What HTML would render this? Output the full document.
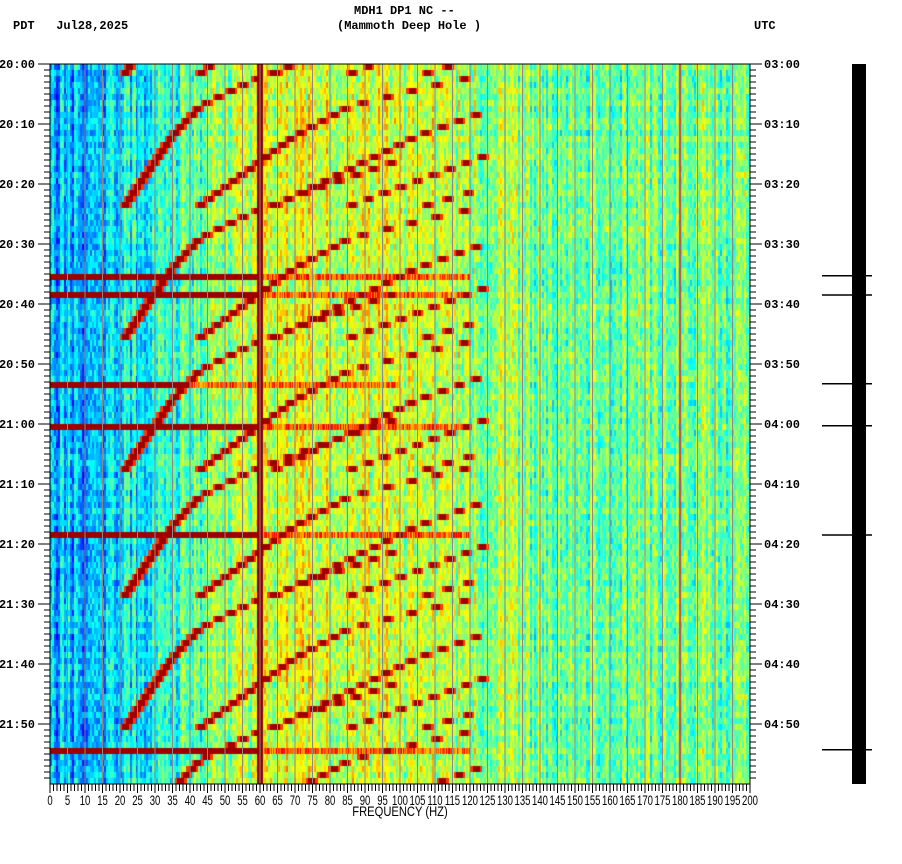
<!DOCTYPE html>
<html><head><meta charset="utf-8"><style>
body{margin:0;background:#fff;width:902px;height:864px;overflow:hidden;position:relative;font-family:"Liberation Mono",monospace;}
.t{position:absolute;font-size:12px;font-weight:bold;color:#000;white-space:pre;line-height:12px;}
#spec{position:absolute;left:50px;top:64px;}
#ov{position:absolute;left:0;top:0;}
</style></head><body>
<div class="t" style="left:354px;top:5px">MDH1 DP1 NC --</div>
<div class="t" style="left:337px;top:20px">(Mammoth Deep Hole )</div>
<div class="t" style="left:13px;top:20px">PDT   Jul28,2025</div>
<div class="t" style="left:754px;top:20px">UTC</div>
<canvas id="spec" width="700" height="720"></canvas>
<svg id="ov" width="902" height="864"></svg>
<script>
// ---- data ----
const freqGridHz=[0,10,20,30,40,50,60,70,80,90,100,110,120,130,140,150,160,170,180,190,200];
const baseLevel=[0.3,0.31,0.35,0.41,0.46,0.5,0.57,0.59,0.59,0.58,0.57,0.56,0.54,0.52,0.5,0.5,0.5,0.49,0.49,0.49,0.49];
const chirpDt=[0,6,12,17,21,25,30];
const chirpFreq=[21,28,35,43,57,75,100];
const episodeEnd=[2,24,46,68,89,111,133];
const harmonics=[1,2,3,4,5,6];
const eventTimes=[35.3,38.5,53.3,60.3,78.5,114.3];
const eventExtentHz=[60,60,40,60,60,60];
const leftTicks=["20:00","20:10","20:20","20:30","20:40","20:50","21:00","21:10","21:20","21:30","21:40","21:50"];
const rightTicks=["03:00","03:10","03:20","03:30","03:40","03:50","04:00","04:10","04:20","04:30","04:40","04:50"];
const freqTicks=[0,5,10,15,20,25,30,35,40,45,50,55,60,65,70,75,80,85,90,95,100,105,110,115,120,125,130,135,140,145,150,155,160,165,170,175,180,185,190,195,200];
// ---- axes ----
const X0=50,X1=750,Y0=64,Y1=784,FMAX=200,TMAX=120;
const xs=f=>X0+(f/FMAX)*(X1-X0);
const ys=t=>Y0+(t/TMAX)*(Y1-Y0);
function interp(xa,ya,x){if(x<=xa[0])return ya[0];for(let i=1;i<xa.length;i++){if(x<=xa[i]){const k=(x-xa[i-1])/(xa[i]-xa[i-1]);return ya[i-1]+k*(ya[i]-ya[i-1]);}}return ya[ya.length-1];}
function jet(v){v=Math.max(0,Math.min(1,v));const r=Math.max(0,Math.min(1,1.5-Math.abs(4*v-3))),g=Math.max(0,Math.min(1,1.5-Math.abs(4*v-2))),b=Math.max(0,Math.min(1,1.5-Math.abs(4*v-1)));return[r*255|0,g*255|0,b*255|0];}
function h(a,b){let n=(a*374761393+b*668265263)|0;n=(n^(n>>>13))*1274126177|0;return((n^(n>>>16))>>>0)/4294967295;}
// ---- heatmap ----
const cv=document.getElementById('spec'),cx=cv.getContext('2d');
const W=700,H=720,img=cx.createImageData(W,H);
const rows=TMAX,rowH=(Y1-Y0)/rows;
for(let r=0;r<rows;r++){
  const t=r+0.5;
  const rowOff=(h(r,999)-0.5)*0.05;
  for(let c=0;c<W;c++){
    const f=(c+0.5)/W*FMAX;
    let v=interp(freqGridHz,baseLevel,f)+rowOff+(h(c>>1,7)-0.5)*0.2+(h(c>>1,r)-0.5)*0.18;
    for(let e=0;e<episodeEnd.length;e++){
      const dt=episodeEnd[e]-t;
      if(dt<0||dt>30)continue;
      const f1=interp(chirpDt,chirpFreq,dt);
      for(const n of harmonics){
        const fh=f1*n;if(fh>125)continue;
        const d=Math.abs(f-fh);
        if(d<1.0)v=Math.max(v,0.97);else if(d<1.7)v=Math.max(v,0.82);
      }
    }
    for(let i=0;i<eventTimes.length;i++){
      if(Math.floor(eventTimes[i])===r){
        if(f<eventExtentHz[i])v=Math.max(v,0.97);else if(f<eventExtentHz[i]+60)v=Math.max(v,0.66+(h(c,r+50)*0.25));
      }
    }
    if(Math.abs(f-60)<0.9)v=0.98;
    if(Math.abs(f-180)<0.3)v=0.88;
    const col=jet(v);
    for(let yy=Math.round(r*rowH);yy<Math.round((r+1)*rowH);yy++){const p=(yy*W+c)*4;img.data[p]=col[0];img.data[p+1]=col[1];img.data[p+2]=col[2];img.data[p+3]=255;}
  }
}
cx.putImageData(img,0,0);
// ---- overlay ----
const svg=document.getElementById('ov'),NS='http://www.w3.org/2000/svg';
function mk(tag,at,name,txt){const e=document.createElementNS(NS,tag);for(const k in at)e.setAttribute(k,at[k]);


if(txt!==undefined)e.textContent=txt;svg.appendChild(e);return e;}
for(let f=5;f<FMAX;f+=5){mk('line',{x1:xs(f),x2:xs(f),y1:Y0,y2:Y1,stroke:'#8a8a8a','stroke-width':1},'grid-line');}
mk('rect',{x:X0,y:Y0,width:X1-X0,height:Y1-Y0,fill:'none',stroke:'#000','stroke-width':1},'plot-frame');
for(let m=0;m<TMAX;m++){const y=ys(m),maj=m%10===0;
 mk('line',{x1:maj?38:44,x2:X0,y1:y,y2:y,stroke:'#000'},'left-tick');
 mk('line',{x1:X1,x2:maj?762:756,y1:y,y2:y,stroke:'#000'},'right-tick');}
leftTicks.forEach((s,i)=>mk('text',{x:35,y:ys(i*10)+4,'text-anchor':'end','font-size':12,'font-weight':'bold','font-family':'Liberation Mono'},'left-time-label',s));
rightTicks.forEach((s,i)=>mk('text',{x:764,y:ys(i*10)+4,'font-size':12,'font-weight':'bold','font-family':'Liberation Mono'},'right-time-label',s));
for(let f=0;f<=FMAX;f++){mk('line',{x1:xs(f),x2:xs(f),y1:Y1,y2:Y1+(f%5===0?9:7),stroke:'#000'},'x-tick');}
freqTicks.forEach(f=>{mk('text',{x:0,y:0,'text-anchor':'middle','font-size':14,'font-family':'Liberation Sans',transform:`translate(${xs(f)},${Y1+21}) scale(0.68,1)`},'x-tick-label',String(f));});
mk('text',{x:0,y:0,'text-anchor':'middle','font-size':14,'font-family':'Liberation Sans',transform:`translate(400,816) scale(0.8,1)`},'x-axis-title','FREQUENCY (HZ)');
mk('rect',{x:852,y:Y0,width:14,height:Y1-Y0,fill:'#000'},'seismogram-trace');
eventTimes.forEach(t=>{mk('line',{x1:822,x2:872,y1:ys(t),y2:ys(t),stroke:'#000','stroke-width':1.5},'seismogram-spike');});
</script>
</body></html>
